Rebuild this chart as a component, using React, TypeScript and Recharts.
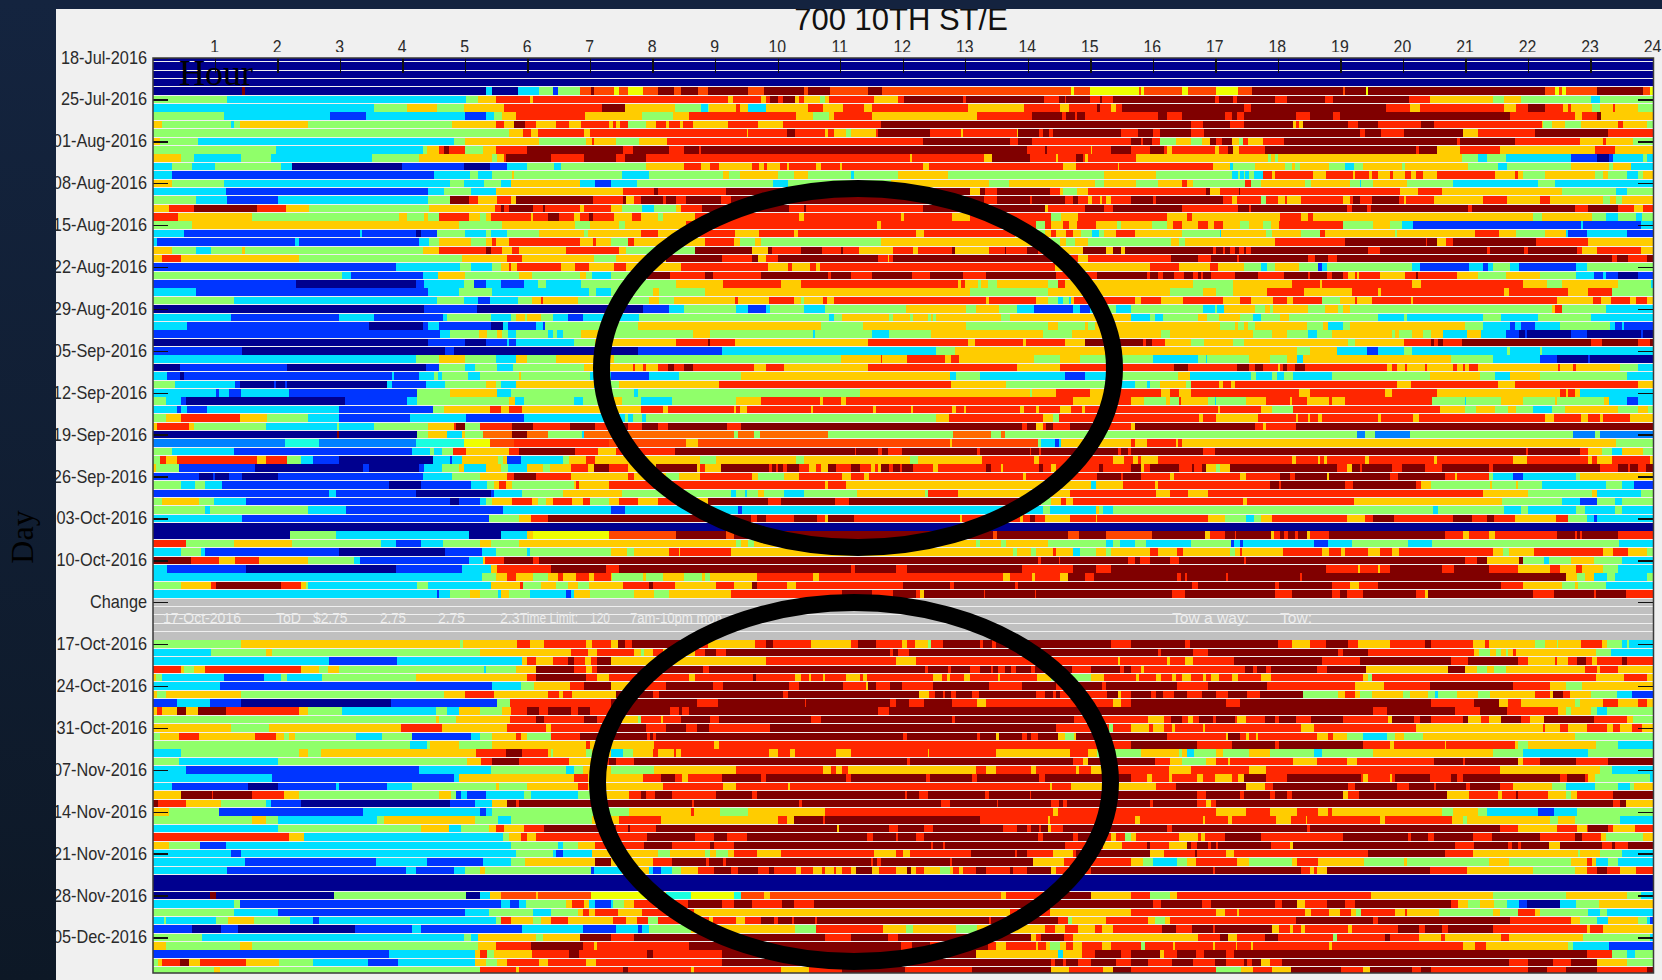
import { BarChart, Bar, Cell, XAxis, YAxis } from "recharts";

// one string per weekday row: colour letter + hour where that colour ends
const dayRuns = [
  "n24",
  "n24",
  "n24",
  "n24",
  "n1.42 d1.47 n5.33 c5.42 n5.84 c6.17 g6.4 b6.48 g6.83 o7 d7.05 o7.37 l7.46 o7.6 l7.84 o8.08 d8.33 o8.45 d8.72 o8.87 d9.52 o9.77 d10.41 o10.47 d10.83 o11.44 d11.66 o14.69 l14.73 o14.98 l15.77 o15.8 l15.85 o16.46 l16.55 o17.01 l17.36 o17.58 d19.03 o19.07 d19.4 l19.44 d22.26 o22.42 l22.49 o22.53 l22.6 o23.09 d23.84 o23.94 l24",
  "g1.18 c5 g5.2 y5.49 r6.03 y6.07 r9.2 y9.28 r9.72 y9.8 r9.87 d10 r10.07 d10.27 y10.33 r10.41 y10.67 g10.75 y10.82 r11.54 y11.92 r12.01 d12.96 r13 d14.25 r14.49 d14.58 r14.6 d14.98 r15.14 d15.18 r15.35 d16.98 r17.05 d17.27 r17.34 d17.95 r18.14 d18.74 r18.88 d20.09 r20.43 y21.43 g21.61 y21.88 g23 c23.15 g24",
  "c3.54 g4.07 y4.55 g4.97 y5.61 r7.18 d7.55 y8.35 g8.76 c8.88 g8.9 y9.33 r9.39 y9.52 c9.81 y10.47 r10.71 y11.04 r11.37 y11.5 r13.04 y13.93 r14.5 y14.65 r15.1 d15.14 r15.32 y15.4 r15.5 d17.45 r17.57 d19.72 r20.11 y20.26 r21.61 y21.8 r22 d22.26 r22.55 y22.64 r22.68 y23.02 g23.14 y23.35 r23.39 y23.76 g24",
  "g1.13 c2.83 b3.4 c4.99 b5.32 c5.46 g5.58 y5.8 r6.91 y7.82 g8.31 y8.58 r10.29 y10.55 g10.82 y10.89 r11.5 y13.18 r14.06 d14.54 r14.6 d14.75 r14.78 d14.91 r16.08 d16.22 r16.46 d17.14 r17.26 d17.34 r17.45 d18.28 r18.5 d18.88 r18.99 d21.7 r22.75 y22.86 r23.09 d23.16 y24",
  "y0.15 g1.24 c1.29 g1.39 y2.48 g4.79 y5.49 r5.62 y5.77 d5.95 r6.13 y6.45 r6.66 y6.85 r7.3 y7.35 r7.4 y7.47 r7.6 g7.89 y8.04 r8.2 y8.25 r8.43 y8.47 r8.64 y9.2 r9.67 y10.08 r11.64 d16.6 r16.8 d17.22 r17.45 d18.24 y18.28 r18.33 y18.39 d19.12 r19.28 d19.6 r20.28 d20.49 r22.22 y22.24 g22.38 y22.58 g22.84 y23.43 r23.51 y23.9 g24",
  "g5.7 y5.92 r6.04 y6.15 r6.89 y6.99 r9.5 y9.52 r10.14 d10.27 r10.75 y10.79 r10.89 y11.08 g11.17 y11.56 r11.6 d12.43 r12.93 y12.96 r13.82 y13.84 d14.17 r14.24 d14.33 r14.4 d15.48 r15.75 d16 r16.1 d16.6 r16.81 d19.3 r19.39 d19.64 r20.01 d20.95 y21.2 r22.11 d23.28 r24",
  "y0.11 g0.72 c4.82 g4.99 y6.18 g6.93 y7.02 r7.05 y7.41 g7.78 y8.22 r12.31 d13.71 r13.84 d14.06 r15.65 d15.8 r15.84 d15.98 r16.1 g16.37 y16.6 g16.78 y16.9 d17 r17.1 d17.26 y17.37 g17.44 r17.52 y17.76 r18.09 d20.86 r20.9 d21.78 r22.82 y23.2 r23.24 y23.68 g24",
  "g1.96 c4.32 g4.39 y4.57 r4.66 d4.73 r4.99 g5.28 y5.49 r5.99 d7.52 r7.68 d8.26 r8.5 d8.74 r8.77 d13.98 r14.26 d14.3 r15 y15.02 r15.33 d15.64 r15.95 d16.17 r16.22 y16.3 r16.98 y17.05 r17.2 d17.28 y17.37 r17.79 d20.2 r20.25 d20.53 y20.9 r21.55 y23.07 r23.38 y24",
  "y0.45 g0.66 c1.41 g1.89 c3.5 g4.26 y5.43 g5.5 y5.61 r5.65 d6.36 r6.89 d7.4 r7.55 d7.89 r12.1 y12.14 r13.29 y13.42 d14.02 r14.45 y14.48 r14.77 d14.87 r14.91 y14.95 r15.73 y17.83 g17.89 y17.95 g18 y20.93 g21.2 c21.34 g21.64 c22.68 b23.09 n23.29 b23.35 c23.84 g23.9 c24",
  "c0.31 g0.63 c0.99 g2.04 c2.23 n3.99 b4.97 n5.39 b5.66 c5.99 g6.41 c6.52 g7.89 y8.5 r8.76 y8.91 r9.06 y9.58 r9.7 y9.77 r9.82 y10.03 r10.14 y10.18 r10.6 y10.68 r10.99 y11.02 r12.31 y12.41 r14.55 y14.77 r15.43 y15.45 r16.95 y17.22 c17.28 g17.62 y18.11 g18.22 y18.27 g18.35 y18.81 g19.06 c19.21 g19.36 y19.97 g20.03 y21.03 g21.51 c21.65 g22.68 y23.29 g23.35 y23.64 c24",
  "c0.31 b4.49 c5.07 g5.2 c5.43 g5.74 y5.77 g7.5 c7.93 g9.12 y9.21 g9.39 y10 g10.25 y10.47 g11.17 c11.21 g11.91 y12.72 g15.21 y16.05 g17.26 c17.36 g17.38 c17.45 g17.47 c17.53 g17.61 c17.76 r17.9 y17.94 r18.55 y18.76 r19.2 y19.23 r19.45 y19.5 r19.6 y19.79 r19.83 y20.03 r20.12 y20.2 r20.31 y20.53 r21.47 y21.78 r21.84 y21.91 g22.26 y23.06 g23.2 y23.27 g23.58 c23.76 g23.84 y24",
  "y0.31 g1.13 c4.75 g4.97 c5.3 g5.56 c5.72 y6.83 c7.07 b7.33 c7.74 g9.91 c10.16 g11.8 y13.37 g13.69 y15.06 g15.21 y15.73 g16.08 y16.46 r16.54 y16.63 g17.46 r17.57 g17.72 y18.43 g18.52 y19.15 g19.3 c19.32 g19.52 y20.06 g20.8 c22.15 g22.42 c24",
  "c1.17 b4.4 c4.65 g5.08 c5.49 y7.52 r8.02 d8.08 r9.17 d13.07 y13.22 d13.3 r13.5 d14.35 r14.51 y14.55 g14.78 y14.96 r16.85 d16.9 y17.07 r17.37 d17.39 r19.95 y20.24 r20.62 y22.54 g23.4 c23.58 g24",
  "g0.68 c1.18 b2 c4.4 g4.75 d5.05 r5.2 y5.5 r5.72 y5.8 d7.04 r7.52 d7.57 y7.7 r7.8 d8.16 r8.2 d8.37 r8.53 d9.08 r9.25 d13.29 r13.5 d14.02 r14.06 d14.58 r14.72 d14.8 r14.95 y15.02 r15.14 y15.18 r15.25 y15.33 r15.65 d16 r16.04 d17.11 r17.26 y17.34 r17.72 g17.8 r17.99 y18.11 r18.14 y18.36 r19.04 y19.15 r19.2 d19.3 r19.5 d19.93 r20.01 y20.04 r20.49 y21.28 r21.65 y22.19 r22.34 y23.2 g23.3 y23.4 g23.49 y24",
  "y0.25 r0.66 d1.67 r2.13 y2.5 g4.42 y5.47 r5.57 d5.61 r5.7 d6.07 r6.24 d6.27 r6.83 y6.9 r7.32 y7.5 g7.82 c8.02 g8.36 y8.44 r8.78 d10.18 r10.41 d10.45 r12.32 d14.26 y14.31 r14.91 d15.21 r15.35 d16.46 r17.36 d17.53 r17.57 d19.09 r19.17 d19.41 r19.48 d21.03 r21.1 d22.75 r22.95 d23.43 r23.69 y23.84 r24",
  "r0.4 y1.58 g3.93 y4.07 g4.34 y4.4 g4.57 r5.05 y5.23 g5.32 y5.41 r6.04 y6.07 r6.31 d6.49 r6.74 y6.83 r6.98 d7.04 r7.37 y7.66 r7.81 y8.08 g8.15 y8.67 r10.34 y10.41 r11.97 y12.01 r12.78 y13.06 r14.37 g14.52 y14.8 r16.22 y16.54 r16.62 y18.03 r18.36 y18.47 r18.55 y22.07 g22.22 y23.02 g23.24 c23.43 g23.72 c23.81 g24",
  "g0.63 y4.9 g5.58 y6.75 g6.99 y7.45 g7.55 y8.53 r11.58 y11.64 r14.13 g14.26 r14.37 y14.55 r14.65 y14.78 r15.09 y15.42 g15.48 y15.98 g16.22 y16.31 r16.46 y16.72 r16.87 y16.97 r17.11 y17.38 g17.53 y17.76 g17.89 y18.01 r19.04 g19.52 y19.78 g19.97 c20.15 b22.84 c22.88 b23.8 c24",
  "c0.49 b3.31 c3.35 b4.21 n4.29 b4.55 g4.99 c5.33 g5.4 c5.66 g6.17 y6.89 g6.95 y7.81 r8.08 y8.53 r9.31 y9.7 r10.26 y10.32 r12.21 y12.33 r13.79 y14.1 g14.26 y14.36 r14.45 y14.6 r14.72 y14.85 g15.02 c15.13 g15.21 y15.41 r15.7 y16.46 g17.06 c17.09 y17.8 g17.9 y18.36 g18.66 r18.74 y19.86 g19.9 y21.14 r21.53 y21.8 g22.26 y22.6 c22.64 b22.94 c23.58 b24",
  "c0.07 b2.27 c2.33 b4.26 c4.42 g4.57 y5.09 g5.32 y5.42 r5.49 y5.7 r6.83 y7.04 r7.08 y7.33 g7.59 r7.7 y8.83 r9.29 y9.39 g9.63 y9.72 g11.64 y14.37 g14.5 y14.6 g14.75 y14.95 g16.29 y16.41 g16.51 y17.95 r19.07 d20.36 r20.38 d20.53 y20.68 r20.8 d22.12 r22.96 y24",
  "y0.31 g0.68 c0.92 g1.43 y1.47 g4.32 y4.57 r5.32 d5.41 r5.58 y5.74 r5.85 y6.6 r7.46 y7.57 g8.67 d9.58 y9.83 d9.9 r10.37 d10.7 r11 d11.03 r11.3 y11.83 r12.15 y12.23 r12.78 d12.83 y13.37 r13.62 d13.65 r13.98 d14.16 r14.4 y14.87 d15.25 y15.35 d15.48 y15.55 d16.95 r17 d17.11 r17.14 d17.22 r17.3 d17.37 r17.45 d17.48 r17.56 d19.44 r19.62 d21.34 r21.39 d21.93 r22 d22.78 r22.86 y23.09 r23.8 y24",
  "y0.15 r0.45 y2.33 g4.94 y5.67 r5.9 y7.05 g7.4 y8.2 d9.1 r9.58 d9.67 y9.8 r10 d11.59 r11.75 y11.78 r11.83 d14.43 r14.8 y14.95 r16.29 d16.72 r16.92 d17.34 r17.37 d18.47 r18.58 d18.8 r18.94 d23.34 r23.42 d23.6 r23.9 d24",
  "b3.88 c4.91 g5.09 c5.43 g5.57 y5.7 r5.73 y5.82 r6.52 y6.75 r6.98 y7.37 r7.57 y8.45 r9.83 y10.16 r10.22 y10.51 r10.6 y10.67 r14.43 y15.95 r16.41 y16.9 r17.04 y17.45 g17.72 c17.82 g17.94 y18.33 g18.63 b18.69 c18.77 g20.13 c20.27 b21.05 c21.28 b21.36 c21.43 g21.7 c21.85 b22.76 c22.93 g24",
  "g3.02 c3.17 b4.32 c4.56 y4.99 g5.85 y6.06 g6.83 y6.93 g7.02 c7.33 g7.9 d8.27 r8.83 d8.95 r9.72 d10.8 r10.85 d11.17 r11.5 d12.14 r12.43 d12.96 r13.32 d14.45 r15.1 d15.9 r15.95 d16.08 r16.15 d16.33 r16.49 d16.64 r16.72 d16.76 r16.8 d16.93 r17.3 d17.68 r18.09 d18.47 r18.51 d18.78 r18.85 d19.04 r19.12 y19.22 r19.25 y19.29 r19.63 y20.03 r20.2 d20.24 r20.86 y21.2 g21.64 y22.18 g22.76 c23.05 b23.2 c23.24 b23.43 n23.76 b24",
  "b2.29 n4.21 b4.34 c4.97 g5.14 b5.32 c5.57 b5.93 c6.15 g6.28 c6.85 g8.37 y9.12 r10.04 y10.37 r12.87 y12.92 r12.98 y13.2 g13.25 y13.35 g13.5 y14.31 g14.47 r14.58 y16.63 g17.28 y18.22 r18.66 y18.7 r20.13 y20.28 r21.92 y22.3 g22.53 y23.43 g23.96 c24",
  "c0.68 b4.4 c4.9 g5.43 c6.98 g7.08 c7.33 g8 y8.1 g8.83 y13.07 g14.32 y16.27 g16.79 y17 g17.27 y17.82 r18.41 y19.17 r19.6 y19.64 r21.61 y21.69 r22.64 y22.95 r23.34 g24",
  "g1.29 c4.54 g4.97 c5.2 b5.39 c5.84 g6.06 y6.2 r6.23 y6.79 g7.93 y8.1 g8.33 y9.31 r9.35 y9.85 r10.26 y10.37 g10.41 y10.71 r10.78 y10.89 r13.32 y13.37 r14.12 y14.32 g14.47 c14.55 g14.65 c14.68 y14.73 r15.7 y15.8 r16.12 y16.48 r17.11 y17.38 r17.57 y17.91 r18.14 y18.24 r18.7 g18.99 y19.22 r19.25 y19.5 r20.12 y20.16 r22.46 y23.04 r23.16 y23.32 r23.62 y23.72 r23.9 y24",
  "n4.33 b5.19 n7.84 b8.26 c8.5 g9.33 c9.52 b9.8 c9.87 g10.41 c10.75 g12.05 y13 g13.16 y13.53 g13.82 c14.09 b14.72 c14.83 b14.98 c15.07 g15.4 c15.65 g16.79 c16.98 g17.02 c17.13 y17.63 g17.79 y17.87 g17.91 y18.47 g18.74 y18.95 g19.04 y19.15 g22.37 y22.43 r22.53 g23.24 c24",
  "c1.24 b2.98 c3.53 b4.64 c4.7 g5.4 c5.72 g5.81 y5.95 g5.98 y6.2 g6.4 c6.63 b6.88 c7.78 g10.82 c10.89 g11.02 y11.78 g11.84 y12.11 g12.15 y12.4 g12.44 y12.48 g12.53 y13.56 g13.7 y15.65 c15.95 g16.03 c16.15 g16.72 y16.86 g17.05 y17.38 g17.6 c17.72 g18.03 y18.17 g19.6 c20.01 g20.05 c21.28 g21.56 c22.15 g23 c24",
  "c0.55 b3.45 n4.32 b4.4 c4.57 b5.41 n5.6 c5.68 b6.13 c6.23 b6.27 g7.75 y10.69 g11.35 y13 g14.32 y14.48 g14.91 y14.95 g15.06 y17.07 g17.3 y17.36 g17.45 y17.52 g17.62 y18.46 g18.71 y18.79 c19.03 g19.15 y20.98 g21.28 c21.7 b21.78 c21.88 b22.11 c22.5 g23.3 c23.38 b23.5 c23.53 b24",
  "b4.59 c4.75 g5.21 y5.35 g5.5 y5.58 g5.68 c5.8 g6.32 c6.4 g6.46 c6.55 g6.84 y7.3 g8.64 y8.91 g10.56 c10.59 g11.5 c11.78 g12.44 y14.24 g14.7 y16.13 g16.27 y17.6 g17.9 y18.14 g18.47 c18.62 g18.85 y19.82 g19.86 y19.93 g20.13 y20.31 g20.44 y20.63 c21.02 y21.24 c21.64 b21.85 n21.95 b21.98 n22.68 b22.93 n23.8 b23.84 n24",
  "n4.4 b4.99 n5.32 b5.66 c5.7 b5.8 c6.74 g7.07 y8.37 r8.87 d8.91 r9.31 y11.44 r13.04 y13.15 r13.91 y13.97 r14.58 y14.9 d15.83 r15.88 d15.98 r16.18 y16.61 g16.81 y17.28 g17.45 y19.12 g19.23 y20.01 r20.44 d20.49 r20.55 d20.63 r20.93 d23 r23.18 d23.76 r23.94 d24",
  "b1.43 n4.67 b4.82 n7.75 b9.1 c12.52 g12.82 y18.29 g18.5 y18.93 c19.41 b19.59 c20.01 g20.13 c21.66 g21.7 c22.18 g22.22 c24",
  "c4.21 g4.57 y4.99 g5.49 c5.81 y5.99 g6.44 y7.37 g11.01 y11.64 r11.66 y12.06 r12.67 y12.77 r12.89 y14.09 g14.51 y14.82 g15.99 c16.72 g16.84 c16.86 g17.53 y17.87 g18.14 y18.3 c18.4 y20.76 g21.43 c22.19 b22.45 n22.96 b22.98 n24",
  "n0.43 b2.14 n4.37 b4.57 g4.99 c5.15 g5.5 c5.76 g6.9 y7.67 r7.71 y7.84 r7.89 y8.08 r8.24 d8.33 r8.5 d8.64 r9.62 y9.8 r10.1 y11.44 r13.82 y14.5 r16.33 d16.56 r17.34 d17.53 r17.63 d17.76 r18 y18.03 r18.08 d18.14 r18.27 d18.42 r19.74 y19.82 r19.9 y20.03 r20.05 y20.35 r20.37 y20.8 r20.86 y20.95 r20.99 y21.05 r21.2 y22.48 r22.51 y22.72 r22.76 y23.47 g23.76 c24",
  "c0.23 b0.43 n0.49 b3.82 c3.86 b4.25 c4.5 g4.56 c4.62 g5.04 c5.23 g5.85 y5.89 g6.99 c7.33 b7.93 c8.42 g9.41 y12.75 c12.84 g13.23 c14.59 b14.91 c15.25 g16.39 y16.58 c17.57 g17.65 c17.9 g17.98 c18.09 g18.23 c18.85 g20.43 y21.22 g21.47 c21.7 y22.18 g23.58 c24",
  "g0.35 c1.31 b1.39 n1.93 b1.96 n2.11 b2.14 n3.74 c3.82 b4.37 c4.67 g5.32 y5.49 g5.57 c5.8 y7.05 c7.32 g7.45 y9.06 r12.77 y13.64 g15.27 c15.7 g15.9 c15.95 g16.11 y16.52 g16.6 r17.05 y17.11 r17.25 y17.3 r19.9 y20.12 r21.52 y21.78 r23.76 y24",
  "c1 b1.05 c1.21 b1.41 c2.17 b4.23 g4.75 y5.5 c5.72 g7.7 c7.75 g11.31 y14.02 g14.06 y14.45 r14.98 y15.21 r16.13 y16.26 r16.41 y16.6 r18.33 y18.5 r19.7 y19.82 r20.53 y22.5 r22.6 y22.64 r22.74 y22.83 c24",
  "g0.2 c0.45 b0.53 n3.07 b4.07 c4.23 g5.7 y5.79 c5.94 g6.74 c6.88 g7.33 y7.5 g7.8 c8.3 g9.33 y9.72 r10.67 y10.71 r11 y11.09 r14.72 y15.29 r15.65 y15.85 g16.2 y16.27 g16.41 r16.45 y16.87 g16.98 c17 g17.49 y17.8 r18.19 y18.22 r18.45 y18.81 r18.85 y19.07 r20.46 g20.98 c21 g21.56 y21.92 g22.42 y22.45 g23.21 y23.29 c23.58 b23.76 c24",
  "c0.39 b0.45 c0.55 b0.86 c2.98 b4.48 g4.65 y5.39 r5.57 y5.7 r5.9 y7.8 r8.16 y8.24 r9.29 y9.33 r9.39 y9.5 r10.52 y10.55 r11.51 y11.57 r12.13 y12.15 r12.78 y12.85 r12.97 y13 r13.86 y13.93 r14.13 y14.17 r14.51 y14.69 r14.86 y14.91 r17.03 y17.06 r17.72 y17.9 g18.23 r20.59 y20.98 g21.16 y21.47 g21.68 y21.8 g22.07 c22.37 g22.58 y23.43 g23.76 y23.91 g24",
  "g0.21 y0.45 r1.39 y1.83 g2.48 c2.98 b4.11 c5 b5.93 c7.55 g7.6 c7.67 g7.82 c7.89 g12.53 y12.73 r14.24 y14.4 g14.49 r16.73 y16.8 r17 y17.67 r18.28 y18.32 r18.47 y18.51 r18.63 y18.7 r19.6 y19.64 r20.16 y20.25 r22.26 y22.41 r22.84 y22.96 r23.15 y23.2 r23.62 y24",
  "y0.07 r0.57 y0.66 g1.81 c2.94 g2.98 c3.54 g4.4 y4.81 r4.85 d4.99 g5.23 r5.74 d6.07 r6.67 d7.07 r7.4 d7.6 r7.82 d8.08 r8.23 d9.18 r9.4 d13.9 r13.98 d14.13 y14.23 r14.28 d14.4 r14.66 d15.02 r15.65 y15.7 d17.62 r17.76 y17.8 r18.28 d24",
  "n2.94 d2.98 n4.23 g4.4 y4.71 c4.94 y4.99 g5.28 p5.74 d5.98 p6.32 g6.86 c6.9 p9.29 g9.35 p9.62 g9.71 p10.79 g12.8 p13.41 g13.56 p13.62 g19.25 m19.39 g19.55 m20.1 g22.72 m23.07 g23.15 m24",
  "m2.11 t2.65 m4.2 t4.97 l5.39 o5.77 r7.3 o8.53 y8.72 o12.75 y12.78 o14.15 g14.21 c14.43 b14.49 c14.53 y15.65 r15.7 y15.9 r16.37 y16.4 r16.46 y23.4 g24",
  "g0.31 c1.29 b4.15 c4.43 g4.5 c4.63 g4.8 r5 y5.7 r5.85 d6.75 r7.11 y7.4 r8.35 d11.23 r11.25 d11.59 r11.66 d11.75 r11.98 d13.18 r13.22 d14.02 r14.05 d14.17 r14.21 d15.43 r15.48 d15.6 r15.65 d16.79 r16.98 d21.96 r21.99 d22.82 r22.96 y23.18 g23.34 c23.5 y23.83 g24",
  "g0.11 r0.21 y0.39 r1.66 y1.81 r2.15 g2.37 c2.56 b2.98 n4.48 c4.75 b4.78 c4.95 y5.52 g5.6 y5.66 b5.89 c6.56 g6.66 y6.93 r7.07 y8.75 g9.01 y10.29 g10.41 y12.11 g12.23 y13.26 r14.09 y14.17 r15.35 y15.53 r15.67 y15.75 r15.8 y16.07 r18.22 y18.28 r18.63 y18.66 r18.73 y18.77 r19.39 y19.45 r20.49 y20.53 r21.76 y21.97 r22.96 y23.02 r23.1 y23.34 r23.94 y24",
  "y0.04 g0.42 b1.63 n3.36 b3.45 n4.26 b4.33 c4.63 g4.9 y4.98 c5.32 y5.57 g5.68 c5.99 y6.24 g6.35 y6.69 r6.96 y7.05 d7.3 r7.6 y8.05 d8.7 y8.75 r8.83 y9.08 d9.85 r9.9 d9.96 r10 d10.08 r10.14 d10.34 r10.5 y10.6 r10.68 y10.79 d10.93 r11.17 d11.31 r11.48 y11.55 r11.6 y11.64 d11.77 r11.84 d11.95 r11.98 d12.15 r12.48 y12.56 r13.33 d13.4 r13.56 y13.6 r14.17 d14.24 r14.36 y14.45 r15.13 d15.2 r15.65 d15.8 y15.85 r15.95 d16.41 r16.62 d16.65 r16.78 d16.85 y17.01 g17.06 y17.23 d18.94 r19.09 y19.17 d19.3 r19.34 d19.82 r19.97 d20.35 r20.61 d21.37 r21.44 d23.15 r23.43 d23.6 r23.62 d23.76 r23.88 d24",
  "b0.74 n0.96 b0.99 n1.21 b1.43 n2 b4.32 c4.79 g5.23 y5.66 r5.77 d6.13 r6.69 y7.6 r7.7 y8.2 g8.42 y8.75 r9.58 y9.67 g10.1 y10.33 r11.02 y11.17 r11.37 y11.45 r13.91 y13.97 r15.1 d15.48 r15.52 d15.8 r16.27 y16.33 r17.38 y17.49 r18.03 d18.19 r18.27 d18.78 y18.81 d19.78 r19.92 d20.66 r20.82 y20.86 r21.37 g21.43 c21.76 b21.92 c22.76 g22.82 y24",
  "g0.45 c0.67 g0.83 c1.1 b3.77 n4.29 b5.08 c5.34 g5.45 y5.54 r5.64 y5.75 g6.74 y6.77 r6.82 y7.3 r10.75 y10.8 r11.08 y15 c15.08 y15.51 r16.03 y16.08 r17.87 d18.01 r18.04 d19.06 r19.2 d20.2 r20.28 y20.44 g21.38 y21.41 g21.8 y21.83 g22.22 c23.24 g23.49 c23.69 b24",
  "b2.82 c2.92 b4.2 n5.41 b5.46 c5.9 g6.56 y7.5 g9.24 c9.33 g9.47 c9.5 g9.67 y9.77 g10.1 c10.42 g11.26 y12.35 g12.4 r12.87 y14.67 r16.05 y16.26 r16.56 y16.87 r21.28 y21.99 g23.02 y23.09 c23.8 g24",
  "g0.15 y0.74 g0.97 c1.49 b4.75 n4.9 b5.23 c5.32 g5.42 y5.74 r6.06 y6.15 g6.28 y6.4 r6.7 y6.88 r6.99 g7.3 y7.46 r7.75 y8.08 r8.37 y8.87 d9.84 r10.05 d10.91 r11.13 d13.86 r14.2 g14.37 y14.53 r14.6 y14.72 r17.44 y17.5 r19.21 y21.58 g22.53 c22.82 b23.09 g23.38 c23.5 g24",
  "g0.83 c0.91 g2.48 c3.08 b5.6 c7.33 b7.55 c9.35 b9.42 c14.24 g14.35 c15.08 y15.13 g15.2 c15.35 g20.48 c20.56 g21.61 c21.88 g21.99 c22.76 g22.91 c23.38 g23.49 c24",
  "c1.43 b5.38 g5.86 y6.05 r6.32 d9.56 r9.66 d9.8 r10.25 d10.62 r10.75 y10.8 d11.21 r12.9 y12.94 r13.87 y13.92 r14.03 d14.1 r14.26 y14.67 r15.08 y15.1 r16.87 y17.14 g17.49 c17.61 g17.73 y17.9 r19.09 y19.39 r19.51 d19.85 r20.8 d21.1 r21.34 d21.45 r21.78 y22.44 r22.64 g22.94 c23.05 b23.09 c24",
  "n24",
  "n2.19 g2.93 c5.05 n5.57 c5.99 y6.07 l7.3 o8.37 d9.16 o9.3 d13.43 o13.5 d14.64 o14.81 d15.25 o15.98 d16.82 y16.9 r17.14 d17.3 r17.32 d17.88 y17.93 r18.02 d18.09 r18.15 d18.26 r18.31 d18.46 y18.5 r18.81 d20.66 r20.95 y21.05 r21.37 y21.47 r22.45 d22.75 r22.78 d22.83 r22.86 d23.43 r24",
  "r0.53 g1.29 y2.23 g3.65 c3.88 b4.29 c4.64 g5.23 y5.41 g5.85 y9.32 g9.4 y9.52 g9.62 y13.16 g13.23 y13.56 g13.64 y14.32 g15.24 c15.35 g15.46 c15.7 g15.88 c16.61 g17.25 b17.29 c17.39 b17.43 c18.57 b18.8 c19.17 g20.08 c20.45 g23.45 c24",
  "c0.45 g0.77 c0.83 b2.98 n4.67 b5.27 c5.49 g5.98 c6.03 g7.33 y7.58 g7.7 y8.26 r8.41 y8.43 r9.25 y13.75 g13.82 y14.05 g14.13 y14.4 r14.45 y14.72 c14.83 g15.08 y15.24 g15.32 y15.95 r16.08 y16.38 r16.48 y17.22 g17.3 y17.38 r17.42 y18.08 r18.7 y18.81 r19 y19.07 r19.44 y19.63 r19.82 y19.93 r21.44 y21.6 g21.69 y22.09 r23.2 y23.35 r23.6 y23.9 g24",
  "d0.61 r1.05 y1.31 r1.7 y2.48 g3.22 c3.31 b5.05 c5.28 y5.31 r5.61 d6.07 r6.17 d14.15 r14.21 d14.49 r14.5 d15.6 r15.7 d15.78 r15.95 d16.27 r16.41 d17.45 r17.49 d20.99 r21.18 d21.34 y21.85 d21.92 g22.25 c22.33 g22.68 y23.05 g23.49 c24",
  "c0.23 b1.49 n3.89 b4.94 c5.41 y5.5 r6.36 d7.25 r7.46 d11.17 r11.23 d11.88 r12.06 d13.9 r14.72 d15.08 r15.33 d18.76 r19.28 y19.31 r19.6 y19.63 r19.78 d20.62 r20.81 d21.37 r21.84 y22.35 r22.51 y22.76 r22.86 y23.2 g23.43 c24",
  "c5.27 g5.49 y5.66 r5.8 y6.07 g6.32 y6.47 r6.56 y6.77 r6.98 y7.05 r7.33 y7.34 g7.83 y7.89 g8.15 y8.5 g8.78 y8.83 g8.91 y9.66 r10.56 y10.66 r13.6 y13.71 r14.06 y14.1 r14.51 y14.64 d14.91 r15.05 d16.38 r16.44 d16.51 r16.54 d17.17 r17.2 d18.35 r18.37 d22.6 y22.77 g22.91 y23.05 c23.26 g23.38 c23.9 g24",
  "g0.45 y0.92 r1 d2.04 r2.37 y2.45 g2.48 c4.22 g4.4 c5.4 y5.87 r5.92 g6.2 y6.45 g6.63 y6.8 g6.98 y7.52 r7.93 d8 r8.35 y9 r9.3 y9.58 d9.66 r10.14 y10.29 r12 d12.75 r12.81 d13.79 r13.83 d16.62 r16.72 d17.95 r18.01 d18.85 r19.15 y19.29 r19.6 d21.56 r21.92 y22.53 g22.75 y22.8 g23.24 c24",
  "c4.54 b4.57 c4.75 g5.07 y5.23 g5.52 c5.57 y5.69 g6.03 c6.61 b6.68 c6.74 y6.99 g7.7 y8.01 g8.26 y9.25 r11.02 d11.5 r11.84 d12.21 r12.26 y12.33 d13.29 r13.31 d14.1 r14.12 d16.3 r16.51 d17.95 r18.22 d18.85 r18.99 d19.09 r19.36 d20.2 r20.35 y20.39 d22.08 r22.41 d23.05 r23.08 d23.56 r24",
  "s24",
  "s24",
  "s24",
  "s24",
  "s24",
  "g1.41 y4.91 g4.96 y5.83 r6.03 y6.25 r6.93 y7.02 r7.33 y7.44 d7.55 r7.66 d8.6 r8.88 y9.63 r9.8 d9.91 r10.52 y11.17 r11.27 d11.56 r11.98 y12.06 r12.19 y12.4 g12.44 r12.63 d13.23 r13.27 d13.42 r13.48 d15.33 r15.65 d16.51 r16.59 d18 r18.22 y18.51 r18.76 d19.12 r19.28 y19.78 r20.35 d20.44 r21.11 y21.31 r21.37 y22.1 g22.26 y22.45 g22.48 y22.84 r23.17 y23.26 g23.5 c23.58 g23.61 c24",
  "c0.92 g1.8 y1.91 g5.23 y6.69 r6.96 y7.1 r7.7 y7.81 g7.85 y8 r8.16 y8.67 r8.83 d9 r9.17 d11.79 r11.84 d11.92 r12.09 d16.08 r16.13 d16.64 r16.87 d18.95 r19.04 d19.44 r21.13 y21.21 g21.38 y21.48 g21.56 y21.64 g21.68 y21.75 r21.8 y23.08 g23.32 c24",
  "c2.81 b3.9 c5.9 y5.98 r6.13 y6.4 r6.63 d6.73 r6.91 y7 r7.1 d7.33 y9.8 r11.88 y12.21 r15.44 y15.47 r16.22 y16.27 r16.51 y16.64 r17.29 d18.7 r19.31 d20.76 r21.03 d21.84 r22 y22.42 r22.45 y22.64 r22.78 d22.92 r23.01 y23.09 r23.5 d23.58 r24",
  "r0.45 y0.49 g0.65 y0.83 r2.37 y2.65 g2.8 y2.98 g5.29 c5.32 g5.8 y6.13 d6.73 r6.93 y7.02 r7.1 d8.8 r8.9 d12.35 r12.4 d12.72 r12.76 d13.07 r13.23 d13.4 r13.44 d13.52 r13.62 d13.72 r13.8 d14.05 r14.1 d14.7 r15 d15.46 r15.53 d15.65 r15.8 y15.85 r17.46 d17.6 r17.66 d17.8 r17.88 d18.62 r18.78 d19.4 y20.72 d20.98 y21.18 g21.34 y21.45 g21.64 y22.91 r23.09 y23.15 r23.43 y24",
  "y0.04 g0.15 c1.13 b1.77 c2.05 g2.14 c2.7 g4.21 y5.99 r6.13 d6.93 r7.1 y7.3 r8.58 y8.67 r9.59 d9.64 r10.27 y10.37 r10.49 y10.53 r10.71 y10.75 r11.08 y11.31 r11.36 y11.42 r12.47 y12.62 r12.7 y12.74 r12.97 y13.07 r13.52 y13.55 r14.14 y14.36 g15 y15.21 r15.73 y15.77 r16.05 y16.13 r16.3 y16.36 r16.46 y16.6 r16.8 y16.85 r16.92 y17.05 r17.26 y17.36 r17.72 y17.89 r19.36 y19.44 g19.5 r23.08 y23.53 r23.9 y24",
  "c1.07 b5.43 c5.89 g6.1 y6.67 r6.89 d7.33 y7.64 r8.2 d8.96 r9.12 d10.18 r10.33 d11.04 r11.4 y11.44 d11.56 r11.79 d11.98 r12.47 d13.37 r13.9 d14.45 r14.7 d15.18 r15.24 d16.38 r16.87 d17.82 r19.22 y19.69 r20.43 d21.76 r22.34 y22.6 g22.86 y24",
  "y0.07 g0.21 y1.41 g4.66 y4.99 r5.46 y6.32 r6.49 y6.56 r6.7 y7.4 d8 r8.1 d10.08 r10.15 d12.25 y12.41 r12.5 d12.63 r12.66 d12.77 r12.84 d13.1 r13.21 d14.13 r14.26 d14.4 r14.45 d14.5 r15.26 d15.43 y15.48 r15.65 d15.97 r16.05 d16.15 r16.33 d16.54 r16.78 d17 r17.2 d17.5 r17.7 d18.4 g18.95 y19.06 r19.22 y19.3 g19.5 y20 g20.1 y20.4 g20.5 c20.56 g20.85 y21.2 g21.38 y22.1 r22.34 y22.4 d22.55 r22.66 y23 g23.42 c23.66 b24",
  "b0.39 c0.91 b1.41 n3.81 b5.5 g5.71 r7.33 d8.7 r9.03 d10.43 r10.45 d11.79 r11.88 d12.09 r12.33 d12.78 r13.18 y13.33 r15.35 y15.48 r15.65 d17.17 r17.38 d20.44 r21.13 d21.53 y21.68 r21.88 y22.75 g22.82 y23.2 r23.43 y23.76 r23.9 y24",
  "y0.07 r0.15 y0.39 d0.53 y0.72 d1.17 r2.33 y2.48 g3.02 c4.52 g4.71 c4.9 y5.23 g5.58 y5.72 r5.99 d6.17 r6.32 d6.69 r6.8 d6.99 r7.33 d8.27 r8.42 d8.46 r8.58 d11.59 r11.77 d19.52 r19.74 d20.82 r21.23 d21.66 r22.47 y22.6 g22.68 y23 g23.1 c23.26 g24",
  "g4.53 y4.57 g4.85 y5.71 r6.13 d6.25 r6.89 d7.1 r7.5 y7.75 g7.81 r8.13 y8.16 r8.45 d8.91 r9.06 d10.52 r10.69 d12.78 r12.82 d14.73 r15.92 y16.17 r16.29 d16.46 r16.56 y16.64 r16.73 d16.95 r17 d17.3 r17.34 y17.49 r17.79 d17.95 r18.01 d18.28 r18.52 d19.03 r19.75 y19.82 d20.17 r20.26 d20.44 r20.95 d21.04 y21.24 r21.37 y21.56 d21.88 r22.03 y22.25 d23.05 r23.58 y23.67 g24",
  "y1.24 g1.85 y3.97 r4.63 y5.66 r6.29 y6.36 r7.27 d7.89 r8.2 d8.53 r8.7 d8.9 r9.87 d14.45 r15.29 g15.35 r15.65 y15.93 r16 y16.17 r16.3 y16.35 r16.79 y16.83 r18.36 y18.57 r20.2 y22.23 r22.27 y22.5 r22.64 y22.93 r23.26 y23.35 r23.47 y23.66 r23.81 y24",
  "g0.11 y0.41 r0.74 y1.63 r1.96 y2.09 g2.18 y2.27 g3.25 c3.67 g4.15 b5.09 c5.23 g5.42 y5.8 r5.89 y5.98 g6.36 r6.83 d7.9 r7.95 d8 r8.05 d12 r12.06 d13.18 r13.23 d13.48 y13.53 d13.9 r13.98 d14.05 r14.15 d14.48 y14.58 g14.73 y14.77 d16.22 r17.17 y17.2 d17.38 r17.49 y17.53 r17.64 y17.67 r18.62 y18.79 r18.88 y19.09 g19.36 c19.74 g19.86 y20.01 g20.31 y22.75 g24",
  "g4.11 c4.39 g4.43 y4.9 g5.43 y6.93 r6.99 y8.02 r8.97 y9.06 r15.65 d16.7 r17.26 d17.95 r18.01 d19.36 r19.78 y19.85 r20.66 y20.68 r21.78 y21.84 g21.99 y23.08 g23.43 c24",
  "c0.45 g2.33 y2.48 g2.68 y5.17 r5.64 d5.9 r6.31 y6.36 g6.4 y6.93 g7.02 y7.33 c7.52 g7.68 y8 r8.08 y8.33 r8.37 y8.45 r9.85 y10 r10.19 y10.27 r10.93 y11.17 r12.39 y12.41 r13.48 y14.67 r14.96 y15.1 g15.18 y15.35 g15.8 y16.41 g16.46 y16.54 c16.65 g17 y17.12 g17.53 y17.86 g18.57 c18.69 g19.51 y21.43 g21.92 c22.96 g24",
  "g0.42 c2 g5.02 y5.24 r5.43 d5.85 r6.65 y7.25 r7.3 d7.4 r7.7 d12.06 r12.1 d14.72 r14.88 y14.96 d16.03 r16.27 y16.46 g16.85 y17.01 r17.19 y17.23 r18.24 y18.62 r19.1 y19.26 r20.49 d20.95 r20.98 d21.84 y21.91 r22.18 d22.76 r23.28 d24",
  "c0.53 b4.26 c5.41 g6.6 c6.74 g6.88 y7.32 g8.01 y9.33 r10.71 y10.84 r10.92 y11.02 r11.12 y13.16 r13.33 y13.48 r14.04 y14.12 r14.77 y14.81 r15 y15.21 r16.25 y16.61 r17.53 y17.8 r21.55 y23.15 g23.34 c24",
  "c1.91 b4.81 c4.9 y6.74 r6.95 y7.84 r8.13 d8.35 r8.46 y8.55 r9.1 d9.72 r9.8 d11.09 r11.17 d12.36 r12.43 d13.1 r13.18 d14.17 r14.26 d15.65 r15.9 y15.98 r16.25 y16.3 r16.7 y16.8 r16.98 y17.26 r17.35 y17.45 d17.8 r18.14 d19.32 r19.36 y19.44 r19.78 y19.82 r19.86 d20.42 r20.76 d20.86 r20.95 d22.5 r22.62 d22.91 r22.96 y23.06 g23.94 c24",
  "c0.3 b1.52 n2 b2.92 c2.98 b3.74 c4.15 g5.49 y5.54 g5.99 y6.8 r6.96 y8.16 r9.11 y9.33 r10.16 y10.19 r14.35 y14.38 r14.68 y16.05 r16.37 d17.49 y17.78 r17.91 d19.12 r19.23 d19.9 r20.09 d20.49 r20.52 d21 r21.07 d21.54 r21.76 y22.38 g22.6 c23.06 g23.43 c23.62 g23.69 y24",
  "y0.45 d0.94 r0.96 d1.58 r2.09 y2.33 g4.57 y4.77 g4.84 b4.93 c5.03 b5.33 c5.93 g6.05 c6.79 g6.99 y7.62 r7.8 d7.89 r8.03 d8.3 r9 d9.58 r9.66 d12.02 r12.06 d12.25 r12.39 d13.31 r13.37 d14.02 r14.04 d16.7 r16.84 d17.38 r17.45 d17.87 r17.95 d18.14 r18.22 d19.03 y19.12 r19.29 d20.69 y21.05 r21.52 y21.57 r21.8 d21.84 r22.32 y22.6 g22.68 y22.78 r23.35 d24",
  "d0.08 r0.53 y1.09 g1.81 c1.89 b2.37 n4.75 b5.15 c5.43 y5.66 d5.8 r5.85 d8.62 r8.65 d10.33 r10.38 d12.61 r12.75 d13.5 r13.52 d14.37 r14.49 d14.55 r14.62 d15.95 r15.99 d16.7 r16.85 y16.93 r17 d23.35 r23.47 d23.56 y24",
  "y0.25 g1.06 b3.36 c5.23 b5.32 c5.43 g7.62 y8.6 r8.66 y9.07 g9.52 y10.75 r14.4 y14.48 r17 y17.49 r17.87 y18.29 r18.63 y18.8 r18.85 y20.62 g20.8 y21.2 g21.34 c22.15 b22.41 c22.77 g24",
  "g1.58 y1.81 g2 c3.59 g3.69 y5.15 g5.52 c5.73 g7.02 y7.46 r8.13 y10 r10.14 y10.25 d10.72 r10.75 d13.23 r14.32 y14.35 r15.7 y15.78 r16.8 y16.83 r17.2 y17.26 r17.96 y18.2 r18.44 y18.46 r19.62 y19.7 r20.77 y20.96 g21.02 y22.34 g22.48 y22.75 g23.46 c24",
  "c2 g4.29 y4.73 c4.93 g5.38 y5.48 r5.61 y5.94 r6.25 d7.4 r7.6 d7.63 r8.04 d10.94 y10.97 d11.77 r11.91 d12.33 r12.48 d13.6 r13.82 d13.98 r14.04 d14.17 r14.2 d14.32 y14.37 r14.55 d16.22 r16.3 d18.45 r18.51 d21.55 r21.84 y22.45 r22.78 y22.93 r22.96 d23.28 r23.35 y23.71 r24",
  "r2.18 y2.41 c5.6 g5.69 y5.88 r5.99 y6.12 r7.9 d8.67 r8.97 d9.18 r9.5 d11.42 r11.51 d11.88 r11.92 d12.2 r12.33 d14.15 r14.24 d14.72 r14.8 d15 r15.33 y15.41 r15.55 g15.65 y15.72 r16.41 y16.72 r16.76 y16.83 r17.14 d17.72 r19.04 d20.08 r20.12 d20.39 r20.49 d21.12 r21.41 d22.18 r22.75 d22.86 r23.16 y23.24 g23.83 y24",
  "y0.25 g0.75 b1.16 c5.72 g6.47 c6.55 g6.79 y7.07 r7.85 d8.3 r8.91 d8.97 r9.29 d12.44 r12.48 d12.63 r12.66 d14.59 r15.2 y15.5 r15.9 d15.95 r16.25 y16.54 d16.61 r16.7 d16.87 r16.92 d17 r17.03 d17.88 r18.19 y18.24 d20.82 r21.13 d21.68 r21.74 d21.84 r21.88 d22.33 y22.5 d23.17 r23.33 d23.38 r23.6 d24",
  "c1.24 b1.41 c5.8 g6.4 c6.44 b6.55 c7.02 y8.08 g8.27 y8.83 g8.91 y9 g9.2 y9.29 r9.66 y10.04 r11.54 y11.88 r11.99 y12.11 r13.09 d13.79 r13.82 d13.98 r14.4 y14.72 r14.76 d15.95 y16.17 r16.67 d16.7 r17.17 y17.29 r19.44 d20.66 r21.11 y22.79 g22.83 y23.15 g23.5 c24",
  "c1.47 b3.57 c4.38 b5.28 c5.72 g5.95 y7.07 d7.33 y8 r8.3 d8.85 r8.9 d9.12 r9.17 d11.48 r11.51 d11.58 r11.64 d12.75 r12.78 d14.08 y14.57 r15.65 y15.84 g16 c16.38 g16.54 y16.69 r17.34 y17.53 g18.22 y18.29 r18.63 y19.37 g20.01 y20.05 g21.37 y21.69 g22.68 y22.93 r23.02 y23.08 c23.28 g23.43 c24",
  "c1.18 b4.05 c4.2 b4.81 c4.99 g5.23 y5.31 g7 b7.05 c7.5 y7.93 c8 b8.13 c8.3 g8.45 y8.72 r8.97 d9.25 r9.35 d9.68 r9.86 d9.94 r10.29 y10.37 r10.56 y10.7 r10.75 y10.89 r10.92 y11.02 r11.17 y11.24 d11.5 y11.62 r11.88 y12.06 d12.13 y12.21 r12.33 y12.59 g12.74 y12.8 r12.89 y12.95 r13.16 d13.33 r13.71 d13.76 r13.98 d14.37 y14.45 r15 d16.95 r16.98 d18.36 r18.51 y18.57 r18.62 y18.77 d20.42 r21.01 y22.08 g22.75 y22.93 r23.09 d23.26 r23.47 y23.72 r24",
  "n24",
  "n24",
  "n0.91 d1.01 n2.89 g5 n5.23 c5.39 y5.56 o6.13 y6.16 o7 l8.2 t8.6 l9.29 t9.4 o9.77 y9.87 o13.56 y13.65 r14.5 d15 y15.65 r15.95 g16.26 y16.38 r19.48 y21.43 g22.6 y23.58 g23.8 c24",
  "c1.29 g1.39 b5.56 c5.71 b5.85 c5.97 g6.6 y6.7 r6.89 y6.98 c7.07 b7.32 c7.35 g7.54 y7.7 r8.56 d9.1 r9.3 d9.58 r10.06 d10.25 r10.58 d16 r16.12 d16.78 r16.92 d17.95 r18.05 d18.29 y18.43 r18.77 d19.07 r19.23 d20.76 r20.88 y21.04 g21.23 y21.45 g21.66 c21.85 b21.97 n22.5 c22.76 g23.13 y24",
  "g1.29 c2 b4.99 c5.38 g6.07 c6.36 g6.79 y6.88 r6.98 y7.07 r7.43 y7.82 r8.65 y13.71 r14.35 y15.65 r17 y17.15 r17.34 y17.37 r18.43 y18.52 r18.81 y18.99 r19.16 y19.24 g19.32 r19.86 y20.03 r20.05 y20.57 g21.44 y21.54 g21.84 r22.11 y22.19 g22.96 c23.15 g23.26 c24",
  "c0.17 g0.2 c1.01 g1.2 y1.62 g2.19 c2.56 b2.65 c5.49 g5.57 r5.72 y6.07 g6.2 y6.37 r6.63 y7.35 r7.57 y7.74 r7.91 g8.08 r8.9 y8.96 r9.33 y9.47 r9.72 d9.94 r10 d10.22 r10.26 d10.59 r10.62 d13.37 r13.4 d14.48 r14.64 g14.7 y15.24 r15.92 y16.03 g16.18 y16.26 r18.28 d19.51 r19.6 d21.7 r22.68 y22.82 g23.09 c23.28 y23.76 g23.9 c23.94 b24",
  "b0.63 n1.09 b1.36 n3.23 b4.15 c4.29 b5.9 c6.88 b7.41 c7.75 b7.82 c7.93 g8.6 y10.27 g10.6 r11.68 y12.05 g12.15 y12.85 g13.18 y14.26 r14.43 y14.59 r14.8 y15.07 r15.18 y15.35 r16.14 d16.37 r16.62 d16.95 r16.98 d17.9 y18.01 r18.19 y18.24 r18.36 y18.42 r19.12 y19.17 r19.91 d20.25 r20.35 d20.62 r20.71 d21.43 r22.93 y22.98 r23.2 y24",
  "g0.79 c4.97 g5.09 c5.2 y6.13 g6.23 y6.83 d7.33 r7.7 d10.75 r11.17 d11.75 r11.91 d14.05 y14.13 r14.2 d14.57 r14.72 y16.72 r17.07 d17.19 y17.34 r17.79 d18 r18.87 g18.94 r19.7 d19.78 r20.25 y20.6 r20.66 y21.56 r21.69 y22.88 g23.94 c24",
  "y0.2 g1.39 y1.58 g5.2 y5.49 r6.05 d6.87 r7.05 y7.1 r8.58 d11.97 r12.14 d12.42 r12.64 d13.35 r13.48 y13.64 r14.12 y14.16 r14.29 y14.35 g14.5 y14.6 r14.72 y14.86 r15.18 y15.32 r15.8 g15.87 r16.32 y16.35 r16.95 y16.98 r17.32 y17.34 r17.57 y17.6 r18.81 y18.85 r20.95 y21.14 r21.32 y22.64 g22.72 c23.29 b24",
  "b3.77 c5.15 y5.23 r5.35 g5.46 y6.06 r6.65 d6.82 r7.9 d8 r9.1 d13.16 y14.48 c14.55 y14.86 r15.07 d15.48 r15.65 d16.1 y16.17 r16.38 d16.68 r16.81 d17.17 r17.29 d22.94 r23.34 g23.57 c23.71 g24",
  "g0.08 y0.15 r0.43 d0.58 y0.75 r1.49 y2.02 g2.56 c3.44 b3.92 c5.15 y5.32 g5.5 y5.66 r6.18 y6.32 r6.93 y7.08 r9.1 d14.37 r14.43 d14.55 r14.6 d14.8 r15 d15.4 r15.65 d15.92 r16.3 d16.64 r16.98 d17.17 r17.45 d17.5 r17.58 d17.72 y17.86 r18.06 d21.69 r21.99 d22.4 r22.68 d23.09 y23.58 g24",
  "g0.98 y1.07 g5.23 r5.8 y5.85 r7.52 d7.6 r8.6 y8.66 r10.04 y10.5 r11.02 d12.02 r13.1 d14.37 y14.65 r15.2 y15.35 d15.65 r17 g17.4 y17.6 r17.9 y18.2 d19 r19.36 y19.46 d20.14 r20.28 d20.44 r22 d22.3 r22.6 d23.1 r23.9 d24",
];

const palette = {
  n: "#00008f",
  b: "#0035ff",
  m: "#0080ff",
  c: "#00dfff",
  t: "#1affe0",
  g: "#90ff6a",
  l: "#eeff00",
  y: "#ffcc00",
  p: "#ff6a00",
  o: "#ff4700",
  r: "#ff2600",
  d: "#800000",
  s: "#c0c0c0",
};

// every 5th row carries a label
const weekLabels = [
  "18-Jul-2016", "25-Jul-2016", "01-Aug-2016", "08-Aug-2016", "15-Aug-2016", "22-Aug-2016",
  "29-Aug-2016", "05-Sep-2016", "12-Sep-2016", "19-Sep-2016", "26-Sep-2016", "03-Oct-2016",
  "10-Oct-2016", "Change", "17-Oct-2016", "24-Oct-2016", "31-Oct-2016", "07-Nov-2016",
  "14-Nov-2016", "21-Nov-2016", "28-Nov-2016", "05-Dec-2016",
];
const weekTicks = weekLabels.map((_, i) => i * 5);
const hourTicks = [
  1, 2, 3, 4, 5, 6, 7, 8, 9, 10, 11, 12, 13, 14, 15, 16, 17, 18, 19, 20, 21, 22, 23, 24,
];

const changeNotes = [
  "17-Oct-2016", "ToD", "$2.75", "2.75", "2.75", "2.3", "Time Limit:", "120", "7am-10pm mon", "Tow a way:", "Tow:",
];
const noteX = [163, 276, 313, 380, 438, 500, 520, 590, 630, 1172, 1280];
const noteW = [78, 25, 34.5, 26, 27, 19.5, 58, 20, 92, 77, 32];

const PLOT_TOP = 58;
const PLOT_BOTTOM = 973;
const PLOT_LEFT = 153;
const PLOT_RIGHT = 1653.5;
const ROW_H = 8.38;
const sans = "'Liberation Sans', Arial, sans-serif";
const serif = "'Liberation Serif', 'Times New Roman', serif";

const rowColors = dayRuns.map((runs) => runs.split(" ").map((r) => palette[r[0]]));
const rows = dayRuns.map((runs, i) => {
  const row: any = { row: i };
  let prev = 0;
  runs.split(" ").forEach((r, k) => {
    const end = parseFloat(r.slice(1));
    row[`s${k}`] = Math.max(end - prev, 0);
    prev = Math.max(end, prev);
  });
  return row;
});
const maxRuns = Math.max(...rowColors.map((c) => c.length));
const runKeys = Array.from({ length: maxRuns }, (_, k) => k);

function LeftTick({ y, payload }: any) {
  return (
    <g>
      <line x1={PLOT_LEFT} x2={PLOT_LEFT + 15} y1={y} y2={y} stroke="#111" strokeWidth={1.4} />
      <text
        transform={`translate(147,${y + 5.5}) scale(0.905,1)`}
        textAnchor="end"
        fontFamily={sans}
        fontSize={18}
        fill="#2a2a2a"
      >
        {weekLabels[payload.value / 5]}
      </text>
    </g>
  );
}

function RightTick({ y }: any) {
  return <line x1={PLOT_RIGHT - 16} x2={PLOT_RIGHT} y1={y} y2={y} stroke="#111" strokeWidth={1.4} />;
}

function TopTick({ x, payload }: any) {
  return (
    <g>
      <line x1={x} x2={x} y1={PLOT_TOP} y2={PLOT_TOP + 15} stroke="#111" strokeWidth={1.4} />
      <text
        transform={`translate(${x - 1},53) scale(0.88,1)`}
        textAnchor="middle"
        fontFamily={sans}
        fontSize={18}
        fill="#2a2a2a"
      >
        {payload.value}
      </text>
    </g>
  );
}

function BottomTick({ x }: any) {
  return <line x1={x} x2={x} y1={PLOT_BOTTOM - 16} y2={PLOT_BOTTOM} stroke="#111" strokeWidth={1.4} />;
}

export default function App() {
  return (
    <div style={{ position: "absolute", left: 0, top: 0, width: 1662, height: 980, overflow: "hidden", background: "#f0f0f0" }}>
      <div style={{ position: "absolute", inset: 0, shapeRendering: "crispEdges" }}>
        <BarChart
          width={1662}
          height={980}
          layout="vertical"
          data={rows}
          barCategoryGap={0}
          barSize={9}
          margin={{ top: PLOT_TOP - ROW_H / 2 - 30, right: 0, bottom: 980 - (PLOT_TOP + ROW_H * 109.5), left: 3 }}
        >
          <XAxis
            xAxisId="top"
            orientation="top"
            type="number"
            domain={[0, 24]}
            ticks={hourTicks}
            height={30}
            axisLine={false}
            tickLine={false}
            interval={0}
            tick={<TopTick />}
          />
          <XAxis
            xAxisId="bottom"
            orientation="bottom"
            type="number"
            domain={[0, 24]}
            ticks={hourTicks}
            height={0}
            axisLine={false}
            tickLine={false}
            interval={0}
            tick={<BottomTick />}
          />
          <YAxis
            yAxisId="left"
            type="category"
            dataKey="row"
            width={150}
            ticks={weekTicks}
            interval={0}
            axisLine={false}
            tickLine={false}
            tick={<LeftTick />}
          />
          <YAxis
            yAxisId="right"
            orientation="right"
            type="category"
            dataKey="row"
            width={8.5}
            ticks={weekTicks}
            interval={0}
            axisLine={false}
            tickLine={false}
            tick={<RightTick />}
          />
          {runKeys.map((k) => (
            <Bar
              key={k}
              xAxisId="top"
              yAxisId="left"
              dataKey={`s${k}`}
              stackId="day"
              isAnimationActive={false}
            >
              {rows.map((r) => (
                <Cell key={r.row} fill={rowColors[r.row][k] || "none"} />
              ))}
            </Bar>
          ))}
        </BarChart>
      </div>

      <svg width={1662} height={980} style={{ position: "absolute", left: 0, top: 0 }}>
        <defs>
          <linearGradient id="side" x1="0" y1="0" x2="0" y2="1">
            <stop offset="0" stopColor="#14243f" />
            <stop offset="1" stopColor="#0d1826" />
          </linearGradient>
        </defs>
        {/* half rows at top and bottom are cut off by the frame */}
        <rect x={148} y={PLOT_TOP - 6} width={1512} height={6} fill="#f0f0f0" />
        <rect x={148} y={PLOT_BOTTOM} width={1512} height={7} fill="#f0f0f0" />
        <rect x={PLOT_RIGHT + 0.5} y={PLOT_TOP} width={8} height={PLOT_BOTTOM - PLOT_TOP} fill="#f0f0f0" />
        <rect
          x={PLOT_LEFT}
          y={PLOT_TOP}
          width={PLOT_RIGHT - PLOT_LEFT}
          height={PLOT_BOTTOM - PLOT_TOP}
          fill="none"
          stroke="#3a3a3a"
          strokeWidth={1.5}
        />
        <text x={179} y={85} fontFamily={serif} fontSize={36} fill="#000">
          Hour
        </text>
        {changeNotes.map((t, i) => (
          <text
            key={i}
            x={noteX[i]}
            y={623}
            textLength={noteW[i]}
            lengthAdjust="spacingAndGlyphs"
            fontFamily={sans}
            fontSize={14}
            fill="#ececec"
          >
            {t}
          </text>
        ))}
        <ellipse cx={858} cy={368} rx={256.5} ry={179.5} fill="none" stroke="#000" strokeWidth={17} />
        <ellipse cx={854} cy={782} rx={256.5} ry={179.5} fill="none" stroke="#000" strokeWidth={17} />
        <text x={901} y={30} textAnchor="middle" fontFamily={sans} fontSize={31} fill="#111">
          700 10TH ST/E
        </text>
        <rect x={0} y={0} width={1662} height={9} fill="#14233f" />
        <rect x={0} y={0} width={56} height={980} fill="url(#side)" />
        <text
          transform="translate(33,537) rotate(-90)"
          textAnchor="middle"
          fontFamily={serif}
          fontSize={32}
          fill="#000"
        >
          Day
        </text>
      </svg>
    </div>
  );
}
